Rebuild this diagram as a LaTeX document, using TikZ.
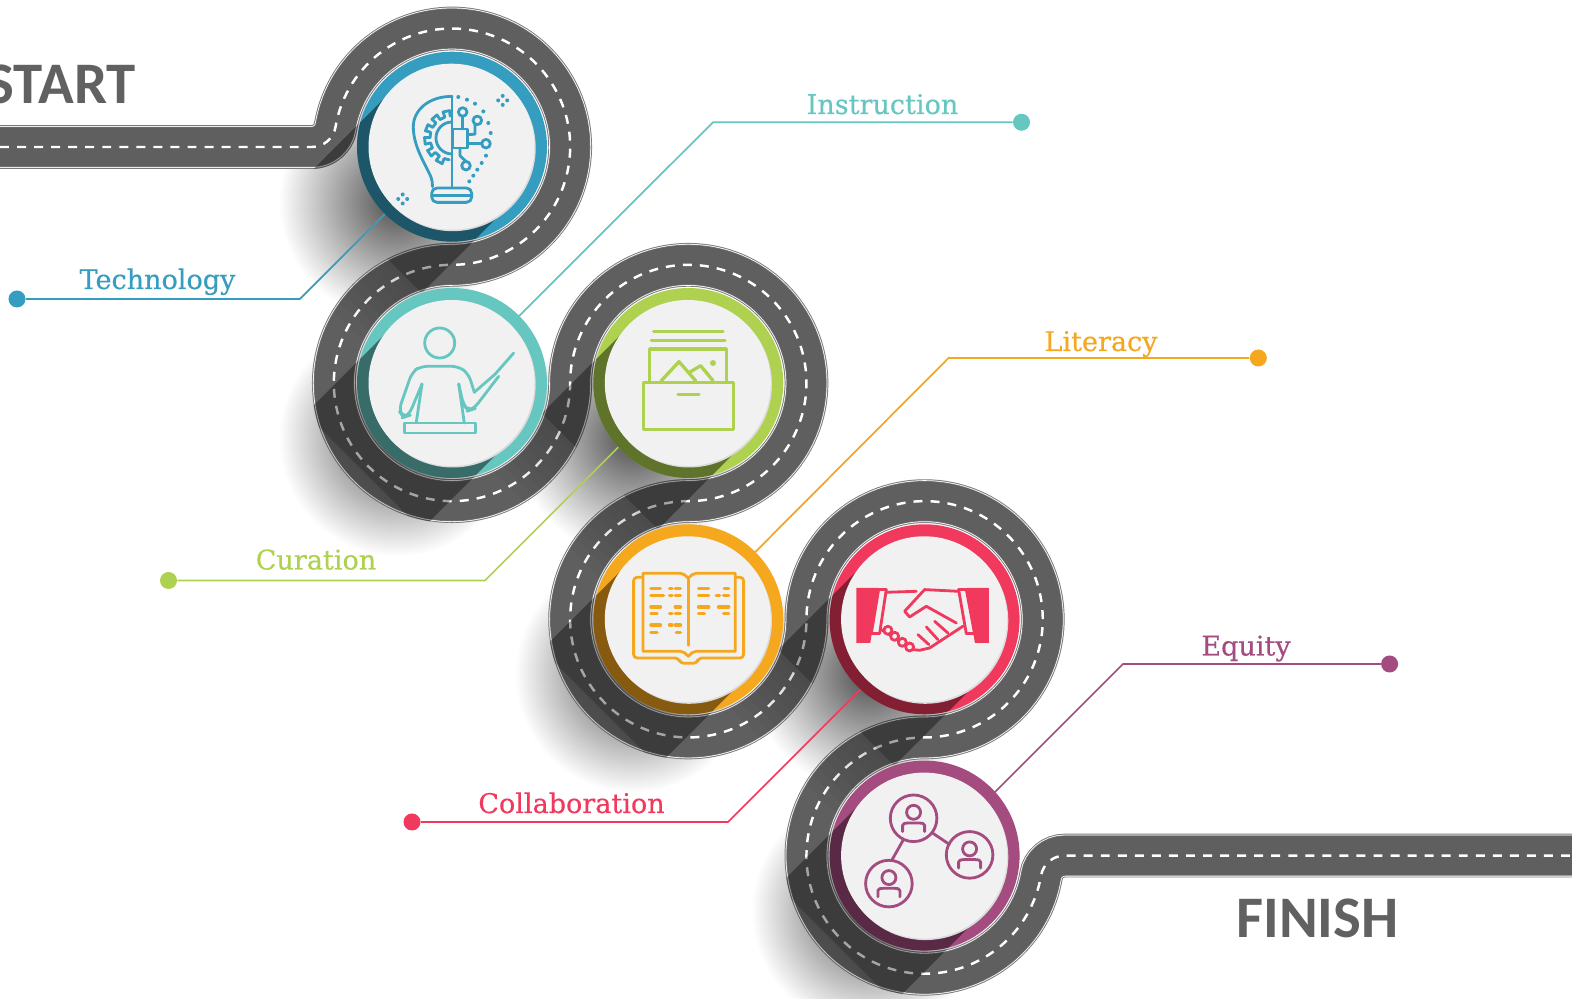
\documentclass[tikz,border=0pt]{standalone}
\usepackage{fontspec}
\usetikzlibrary{fadings}
\newfontfamily\labelfont[FakeBold=0.4]{DejaVu Serif}
\newfontfamily\roadfont{Carlito}
\definecolor{techblue}{HTML}{359DC0}
\definecolor{teachteal}{HTML}{66C6C0}
\definecolor{curgreen}{HTML}{AED24F}
\definecolor{litorange}{HTML}{F5A71E}
\definecolor{colred}{HTML}{F0395C}
\definecolor{eqpurple}{HTML}{A44B80}
\definecolor{asphalt}{HTML}{5F5F5F}
\definecolor{kerb}{HTML}{7A7A7A}
\definecolor{discgrey}{HTML}{F1F1F2}
\tikzfading[name=softblob, inner color=transparent!30, outer color=transparent!100]
\newcommand{\roadline}{(0,852) -- (311.85,852) arc[start angle=-90,end angle=-9.6,radius=24] arc[start angle=170.4,end angle=-90,radius=118.15] arc[start angle=90,end angle=360,radius=118.15] arc[start angle=180,end angle=-90,radius=118.15] arc[start angle=90,end angle=360,radius=118.15] arc[start angle=180,end angle=-90,radius=118.15] arc[start angle=90,end angle=350.28,radius=118.15] arc[start angle=170.28,end angle=90,radius=24] -- (1572,143.4)}
\newcommand{\roadedge}{(0,874) -- (311.85,874) arc[start angle=-90,end angle=-9.6,radius=2] arc[start angle=170.4,end angle=-90,radius=140.15] arc[start angle=90,end angle=360,radius=96.15] arc[start angle=180,end angle=-90,radius=140.15] arc[start angle=90,end angle=360,radius=96.15] arc[start angle=180,end angle=-90,radius=140.15] arc[start angle=90,end angle=350.28,radius=96.15] arc[start angle=170.28,end angle=90,radius=46] -- (1572,165.4) -- (1572,121.4) -- (1064.7,121.4) arc[start angle=90,end angle=170.28,radius=2] arc[start angle=350.28,end angle=90,radius=140.15] arc[start angle=-90,end angle=180,radius=96.15] arc[start angle=360,end angle=90,radius=140.15] arc[start angle=-90,end angle=180,radius=96.15] arc[start angle=360,end angle=90,radius=140.15] arc[start angle=-90,end angle=170.4,radius=96.15] arc[start angle=-9.6,end angle=-90,radius=46] -- (0,830) -- cycle}
\tikzset{
	leader/.style = {line width=1pt},
	tagdot/.style = {circle, inner sep=0pt, minimum size=3.4mm},
	tagtext/.style = {font=\labelfont\fontsize{15.4}{17}\selectfont, anchor=base},
	roadtext/.style = {font=\roadfont\bfseries\fontsize{33.5}{36}\selectfont, text=black!62},
	ringbase/.style = {circle, inner sep=0pt, minimum size=38mm},
	discrim/.style = {circle, inner sep=0pt, minimum size=33.2mm, fill=black!14},
	discface/.style = {circle, inner sep=0pt, minimum size=33.2mm, fill=discgrey},
	icon/.style = {line width=1.6pt, line join=round, line cap=round},
	shadeband/.style = {black, opacity=#1}
}
\begin{document}
\begin{tikzpicture}[x=.2mm, y=.2mm]
	\clip (0,0) rectangle (1572,999);
	\fill[white] (0,0) rectangle (1572,999);

	\coordinate (hub1) at (452,852.3);
	\coordinate (hub2) at (452,616);
	\coordinate (hub3) at (688.3,616);
	\coordinate (hub4) at (688.3,379.7);
	\coordinate (hub5) at (924.6,379.7);
	\coordinate (hub6) at (924.6,143.4);

	\foreach \cx/\cy in {452/852.3, 452/616, 688.3/616, 688.3/379.7, 924.6/379.7, 924.6/143.4}
		\fill[black, path fading=softblob] (\cx-55,\cy-55) circle [radius = 118];

	\node[tagdot, fill=techblue] (techdot) at (17,700) {};
	\coordinate (techbend) at (300,700);
	\draw[techblue, leader] (techdot) -- (techbend) -- (hub1);
	\node[tagtext, text=techblue] (techtext) at (157.5,710) {Technology};

	\node[tagdot, fill=teachteal] (teachdot) at (1021.5,876.7) {};
	\coordinate (teachbend) at (713,876.7);
	\draw[teachteal, leader] (teachdot) -- (teachbend) -- (hub2);
	\node[tagtext, text=teachteal] (teachtext) at (882.5,885) {Instruction};

	\node[tagdot, fill=curgreen] (curdot) at (168.5,418.5) {};
	\coordinate (curbend) at (485,418.5);
	\coordinate (curtip) at (650,583.5);
	\draw[curgreen, leader] (curdot) -- (curbend) -- (curtip);
	\node[tagtext, text=curgreen] (curtext) at (316,429.5) {Curation};

	\node[tagdot, fill=litorange] (litdot) at (1258.3,641) {};
	\coordinate (litbend) at (948.5,641);
	\draw[litorange, leader] (litdot) -- (litbend) -- (hub4);
	\node[tagtext, text=litorange] (littext) at (1101,648) {Literacy};

	\node[tagdot, fill=colred] (coldot) at (412,177) {};
	\coordinate (colbend) at (728,177);
	\coordinate (coltip) at (878,327);
	\draw[colred, leader] (coldot) -- (colbend) -- (coltip);
	\node[tagtext, text=colred] (coltext) at (571.5,186) {Collaboration};

	\node[tagdot, fill=eqpurple] (eqdot) at (1389.6,335) {};
	\coordinate (eqbend) at (1123,335);
	\coordinate (eqtip) at (973,185);
	\draw[eqpurple, leader] (eqdot) -- (eqbend) -- (eqtip);
	\node[tagtext, text=eqpurple] (eqtext) at (1246,343.5) {Equity};

	\draw[kerb, line width=24.9pt] \roadline;
	\draw[white, line width=23.8pt] \roadline;
	\draw[kerb, line width=22.9pt] \roadline;
	\draw[asphalt, line width=22.2pt] \roadline;
	\draw[white, line width=1.4pt, dash pattern=on 5.1pt off 4.6pt] \roadline;

	\begin{scope}
		\clip \roadedge;
		\foreach \cx/\cy in {452/852.3, 452/616, 688.3/616, 688.3/379.7, 924.6/379.7, 924.6/143.4} {
			\fill[shadeband=.2, shift={(\cx,\cy)}, rotate=225] (0,-82) -- (125,-82) -- (125,82) -- (0,82) -- cycle;
			\foreach \len in {130,140,...,200}
				\fill[shadeband=.025, shift={(\cx,\cy)}, rotate=225] (0,-82) -- (\len,-82) -- (\len,82) -- (0,82) -- cycle;
		}
	\end{scope}

	\foreach \n/\cx/\cy/\col in {1/452/852.3/techblue, 2/452/616/teachteal, 3/688.3/616/curgreen, 4/688.3/379.7/litorange, 5/924.6/379.7/colred, 6/924.6/143.4/eqpurple} {
		\node[ringbase, fill=\col] (ring\n) at (\cx,\cy) {};
		\begin{scope}
			\clip (\cx,\cy) circle [radius = 95];
			\fill[shadeband=.45, shift={(\cx,\cy)}, rotate=225] (0,-82) -- (110,-82) -- (110,82) -- (0,82) -- cycle;
		\end{scope}
		\node[discrim] (rim\n) at (\cx+.7,\cy-1.5) {};
		\node[discface] (disc\n) at (\cx-.5,\cy) {};
	}

	\begin{scope}[shift={(hub1)}, techblue, icon]
		\draw (0,50.3) -- (0,-39.7);
		\draw (0,50.3) .. controls (-24,50.3) and (-38.7,36) .. (-38.7,20) .. controls (-38.7,3) and (-30,-12) .. (-24,-24) .. controls (-21,-30) and (-19.5,-33) .. (-19.5,-40);
		\draw[rounded corners=3pt] (-20.3,-41.3) rectangle (19.7,-55.7);
		\draw (-20.3,-48.7) -- (19.7,-48.7);
		\draw (0,24.7) arc [start angle = 90, end angle = 270, radius = 16];
		\foreach \a in {102,130,...,242}
			\draw ([shift={(0,8.7)}]\a-7:22) -- ([shift={(0,8.7)}]\a-7:27.5) -- ([shift={(0,8.7)}]\a+7:27.5) -- ([shift={(0,8.7)}]\a+7:22) -- ([shift={(0,8.7)}]\a+21:22);
		\draw (.7,17.7) rectangle (15.3,-1.3);
		\draw (10.7,30.3) -- (10.7,17.7);
		\draw (10.7,34.7) circle [radius = 4.3];
		\draw (23,22.3) -- (23,12.5) -- (15.3,12);
		\draw (25.3,26.3) circle [radius = 4.3];
		\draw (15.3,3) -- (29.7,3);
		\draw (34,3) circle [radius = 4.3];
		\draw (8,-1.3) -- (8,-9) -- (14,-14.7);
		\draw (14,-19) circle [radius = 4.3];
		\foreach \dx/\dy in {6.3/49.7, 15/47, 23/43, 31.3/35.3, 36.3/23.7, 38.7/13.7, 34/-9, 29.7/-16.3, 25.3/-23, 21.3/-29, 17.3/-34.7}
			\fill (\dx,\dy) circle [radius = 2];
		\foreach \sx/\sy in {50.7/46.3, -49.3/-52.3}
			\foreach \ox/\oy in {4.5/0, -4.5/0, 0/4.5, 0/-4.5}
				\fill (\sx+\ox,\sy+\oy) circle [radius = 2];
	\end{scope}

	\begin{scope}[shift={(hub2)}, teachteal, icon]
		\draw (-12.3,40) circle [radius = 15];
		\draw[rounded corners=4pt] (-30,-1) -- (-43.3,-32.7) -- (-48.3,-34.3) -- (-53.3,-27.7) -- (-40,10.7) -- (-31.7,16.7) -- (6.7,16.7) -- (16.7,9) -- (22.3,-9.3);
		\draw (22.3,-9.3) -- (43.3,9) -- (61.7,30);
		\draw[rounded corners=4pt] (46.7,6.7) -- (21.7,-26) -- (16.7,-27.7) -- (11.7,-22.7) -- (6.7,-1);
		\draw (-30,-1) -- (-35.7,-39.3);
		\draw (6.7,-1) -- (12.3,-40);
		\draw (-47.7,-40) rectangle (23.3,-50);
	\end{scope}

	\begin{scope}[shift={(hub3)}, curgreen, icon, line width=1.9pt]
		\draw (-34.7,51.3) -- (34.7,51.3);
		\draw (-37,42.3) -- (36.7,42.3);
		\draw (-38.7,1.3) -- (-38.7,34) -- (38,34) -- (38,1.3);
		\draw (-27,2.3) -- (-9.3,21.3) -- (7.3,2.3);
		\draw (1.3,10.7) -- (12.3,17.3) -- (24.7,2.3);
		\fill (24.7,20) circle [radius = 3];
		\draw (-44.7,.7) rectangle (45.3,-46.7);
		\draw (-10.3,-11.3) -- (10.7,-11.3);
	\end{scope}

	\begin{scope}[shift={(hub4)}, litorange, icon]
		\draw (0,41) .. controls (-3,44) and (-5,46) .. (-8,46) -- (-45.3,46) -- (-45.3,-32) -- (-8,-32) .. controls (-5,-32) and (-3,-34) .. (0,-37);
		\draw (0,41) .. controls (3,44) and (5,46) .. (8,46) -- (47,46) -- (47,-32) -- (8,-32) .. controls (5,-32) and (3,-34) .. (0,-37);
		\draw (0,41) -- (0,-26);
		\draw[rounded corners=2pt] (-46,42) -- (-54.7,42) -- (-54.7,-38.7) -- (-9.7,-38.7) -- (-8,-44) -- (8.7,-44) -- (10,-38.7) -- (55.3,-38.7) -- (55.3,42) -- (47,42);
		\foreach \xa/\xb/\ya in {-37.3/-28/30.7, -18.7/-16.3/30.7, -13/-8/30.7, -37.3/-24.7/24, -18.7/-16.3/24, -13/-8/24, -37.3/-28/12.3, -13/-8/12.3, -37.3/-31.3/5.7, -18.7/-16.3/5.7, -13/-8/5.7, -37.3/-28/-5.7, -18.7/-16.3/-5.7, -13/-8/-5.7, -37.3/-31.3/-13, -12/-8/-13, 10.3/20.3/30.7, 36/40.3/30.7, 10.3/20.3/24, 28/31.3/24, 35.3/40.3/24, 10.3/20.3/12.3, 30.3/40.3/12.3, 10.3/16/5.7, 35.3/40.3/5.7}
			\draw[line width=2pt] (\xa,\ya) -- (\xb,\ya);
	\end{scope}

	\begin{scope}[shift={(hub5)}, colred, icon]
		\fill (-68.3,31.3) -- (-46,31.3) -- (-54.3,-23.7) -- (-68.3,-23.7) -- cycle;
		\fill (41.7,31.3) -- (64.3,31.3) -- (64.3,-23.7) -- (50.3,-23.7) -- cycle;
		\draw (-46,29.7) -- (-38.3,29.7) -- (-45,-14.3) -- (-53.3,-14.3) -- cycle;
		\draw (34,29.7) -- (41.7,29.7) -- (50,-14.3) -- (41.7,-14.3) -- cycle;
		\draw (-38.3,27) -- (-8.3,28);
		\draw (0,29.7) -- (33.3,28);
		\draw (0,29.7) -- (-20,8) -- (-15,2.3) -- (1.7,13) -- (31.7,-3.7);
		\draw (38.3,-7) -- (5,-28.7) -- (-5,-31) -- (-11.7,-30.3) -- (-43.3,-10.3);
		\draw (-6.7,-15.3) -- (4.3,-25.3);
		\draw (1.7,-7.7) -- (13.3,-20.3);
		\draw (10,-2) -- (23.3,-13.7);
		\foreach \fx/\fy in {-36.7/-11, -30/-17, -22.3/-23, -15/-27.7}
			\draw[fill=discgrey] (\fx,\fy) circle [radius = 4];
	\end{scope}

	\begin{scope}[shift={(hub6)}, eqpurple, icon]
		\foreach \px/\py in {-11/37.3, 45/.7, -35.7/-28} {
			\draw (\px,\py) circle [radius = 23.3];
			\draw (\px,\py+6) circle [radius = 7];
			\draw (\px-11,\py-13.3) -- (\px-11,\py-7) .. controls (\px-11,\py-5) and (\px-8,\py-4.7) .. (\px-5.5,\py-4.7) -- (\px+5.5,\py-4.7) .. controls (\px+8,\py-4.7) and (\px+11,\py-5) .. (\px+11,\py-7) -- (\px+11,\py-13.3);
		}
		\draw (7.7,22.7) -- (24.7,11.3);
		\draw (-21.3,15.7) -- (-33,-5);
	\end{scope}

	\node[roadtext, anchor=base east] (starttext) at (142,895.7) {START};
	\node[roadtext, anchor=base] (finishtext) at (1317.4,61.6) {FINISH};
\end{tikzpicture}
\end{document}
